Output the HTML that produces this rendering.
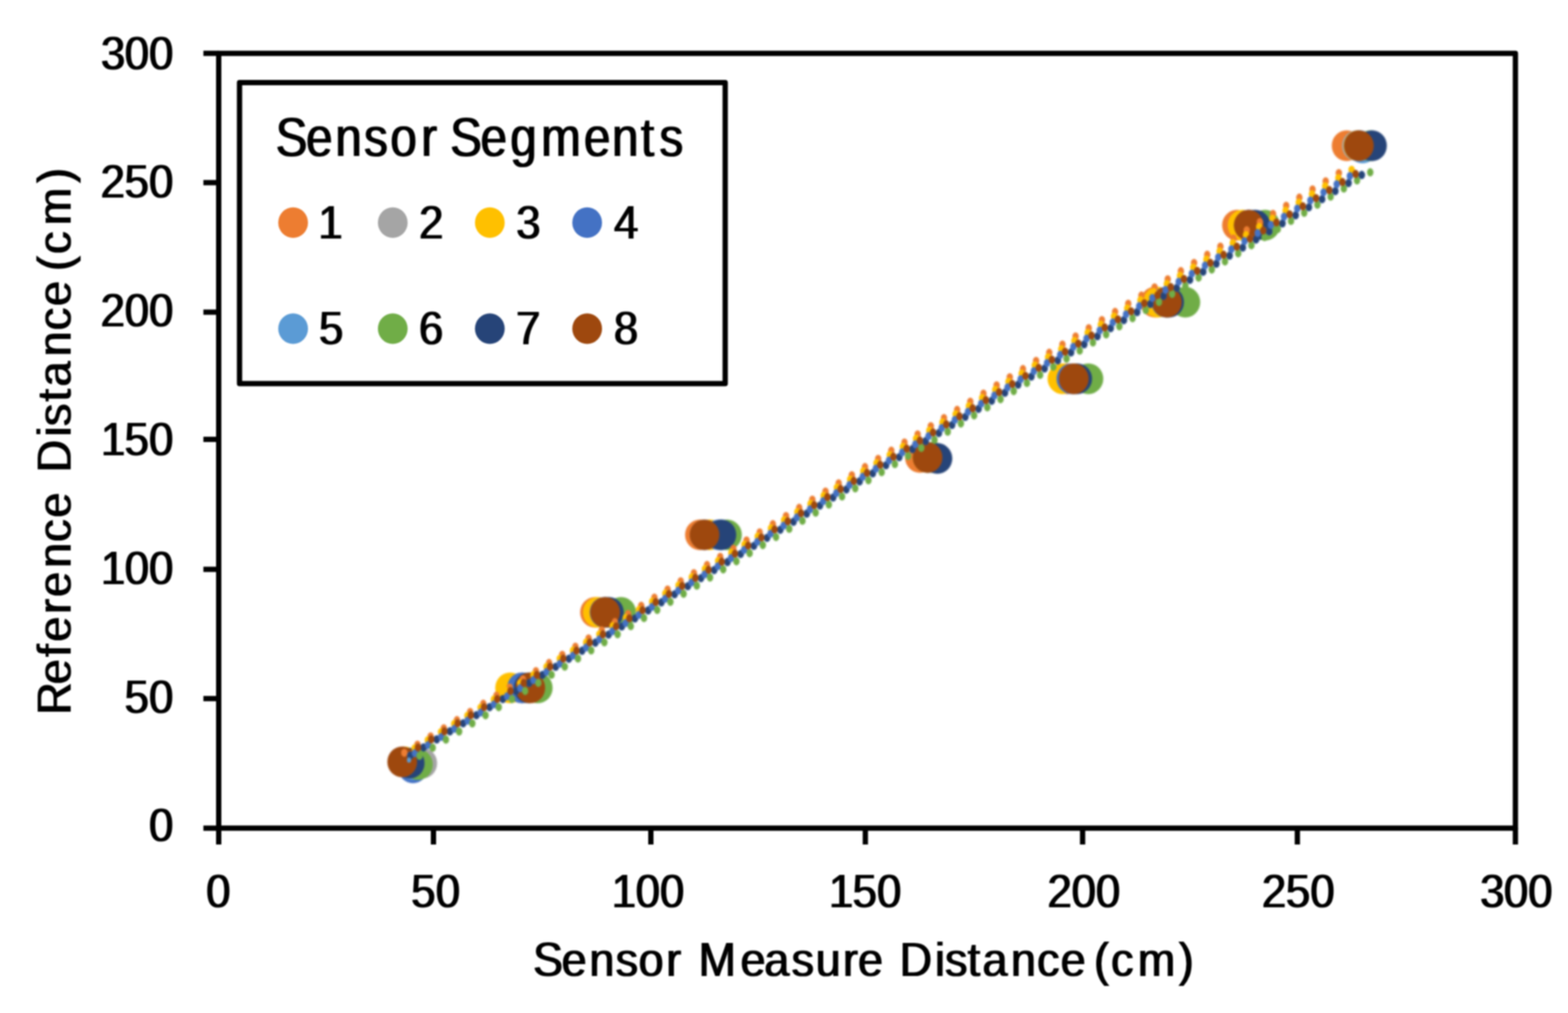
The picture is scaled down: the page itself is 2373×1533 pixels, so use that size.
<!DOCTYPE html>
<html lang="en"><head><meta charset="utf-8"><title>Sensor Segments chart</title>
<style>
html,body{margin:0;padding:0;background:#fff;}
body{width:2373px;height:1533px;overflow:hidden;}
svg{display:block;}
text{font-family:"Liberation Sans",sans-serif;fill:#000;}
</style></head><body>
<svg width="2373" height="1533" viewBox="0 0 2373 1533">
<rect width="2373" height="1533" fill="#fff"/>
<defs><filter id="soft" x="-2%" y="-2%" width="104%" height="104%" color-interpolation-filters="sRGB"><feGaussianBlur stdDeviation="1.2"/></filter><filter id="tx" x="-2%" y="-2%" width="104%" height="104%" color-interpolation-filters="sRGB"><feMorphology operator="dilate" radius="1 0.01"/><feGaussianBlur stdDeviation="1.1"/></filter><filter id="ty" x="-20%" y="-2%" width="140%" height="104%" color-interpolation-filters="sRGB"><feMorphology operator="dilate" radius="0.01 1"/><feGaussianBlur stdDeviation="1.1"/></filter><filter id="softer" x="-2%" y="-2%" width="104%" height="104%" color-interpolation-filters="sRGB"><feGaussianBlur stdDeviation="1.5"/></filter></defs>
<g filter="url(#softer)">
<g>
<g fill="#ED7D31">
<ellipse cx="610" cy="1153" rx="22.5" ry="23.2"/>
<ellipse cx="790" cy="1041" rx="22.5" ry="23.2"/>
<ellipse cx="900.5" cy="926.6" rx="22.5" ry="23.2"/>
<ellipse cx="1059.3" cy="809.4" rx="22.5" ry="23.2"/>
<ellipse cx="1392.2" cy="692.3" rx="22.5" ry="23.2"/>
<ellipse cx="1615" cy="573.2" rx="22.5" ry="23.2"/>
<ellipse cx="1748" cy="457.3" rx="22.5" ry="23.2"/>
<ellipse cx="1872" cy="340.8" rx="22.5" ry="23.2"/>
<ellipse cx="2038" cy="220.5" rx="22.5" ry="23.2"/>
</g>
<g fill="#A5A5A5">
<ellipse cx="639" cy="1155" rx="22.5" ry="23.2"/>
<ellipse cx="790" cy="1041" rx="22.5" ry="23.2"/>
<ellipse cx="915.8" cy="926.6" rx="22.5" ry="23.2"/>
<ellipse cx="1066.2" cy="809.4" rx="22.5" ry="23.2"/>
<ellipse cx="1403.7" cy="692.3" rx="22.5" ry="23.2"/>
<ellipse cx="1625" cy="573.2" rx="22.5" ry="23.2"/>
<ellipse cx="1765.9" cy="457.3" rx="22.5" ry="23.2"/>
<ellipse cx="1889.8" cy="340.8" rx="22.5" ry="23.2"/>
<ellipse cx="2053.5" cy="220.5" rx="22.5" ry="23.2"/>
</g>
<g fill="#FFC000">
<ellipse cx="612" cy="1153" rx="22.5" ry="23.2"/>
<ellipse cx="772" cy="1041" rx="22.5" ry="23.2"/>
<ellipse cx="904.7" cy="926.6" rx="22.5" ry="23.2"/>
<ellipse cx="1074" cy="809.4" rx="22.5" ry="23.2"/>
<ellipse cx="1403.7" cy="692.3" rx="22.5" ry="23.2"/>
<ellipse cx="1607.9" cy="573.2" rx="22.5" ry="23.2"/>
<ellipse cx="1752.2" cy="457.3" rx="22.5" ry="23.2"/>
<ellipse cx="1880.5" cy="340.8" rx="22.5" ry="23.2"/>
<ellipse cx="2056" cy="220.5" rx="22.5" ry="23.2"/>
</g>
<g fill="#4472C4">
<ellipse cx="625" cy="1162" rx="22.5" ry="23.2"/>
<ellipse cx="790" cy="1041" rx="22.5" ry="23.2"/>
<ellipse cx="915" cy="926.6" rx="22.5" ry="23.2"/>
<ellipse cx="1088" cy="809.4" rx="22.5" ry="23.2"/>
<ellipse cx="1405" cy="692.3" rx="22.5" ry="23.2"/>
<ellipse cx="1621.5" cy="573.2" rx="22.5" ry="23.2"/>
<ellipse cx="1765" cy="457.3" rx="22.5" ry="23.2"/>
<ellipse cx="1890" cy="340.8" rx="22.5" ry="23.2"/>
<ellipse cx="2058" cy="220.5" rx="22.5" ry="23.2"/>
</g>
<g fill="#5B9BD5">
<ellipse cx="624.5" cy="1157" rx="22.5" ry="23.2"/>
<ellipse cx="801" cy="1041" rx="22.5" ry="23.2"/>
<ellipse cx="918" cy="926.6" rx="22.5" ry="23.2"/>
<ellipse cx="1091.7" cy="809.4" rx="22.5" ry="23.2"/>
<ellipse cx="1410" cy="692.3" rx="22.5" ry="23.2"/>
<ellipse cx="1626" cy="573.2" rx="22.5" ry="23.2"/>
<ellipse cx="1766" cy="457.3" rx="22.5" ry="23.2"/>
<ellipse cx="1895" cy="340.8" rx="22.5" ry="23.2"/>
<ellipse cx="2062" cy="224" rx="22.5" ry="23.2"/>
</g>
<g fill="#70AD47">
<ellipse cx="632.5" cy="1157" rx="22.5" ry="23.2"/>
<ellipse cx="813.8" cy="1041" rx="22.5" ry="23.2"/>
<ellipse cx="940" cy="926.6" rx="22.5" ry="23.2"/>
<ellipse cx="1100.2" cy="809.4" rx="22.5" ry="23.2"/>
<ellipse cx="1412" cy="692.3" rx="22.5" ry="23.2"/>
<ellipse cx="1647.2" cy="573.2" rx="22.5" ry="23.2"/>
<ellipse cx="1793.9" cy="457.3" rx="22.5" ry="23.2"/>
<ellipse cx="1914.6" cy="340.8" rx="22.5" ry="23.2"/>
<ellipse cx="2074" cy="220.5" rx="22.5" ry="23.2"/>
</g>
<g fill="#264478">
<ellipse cx="620" cy="1155" rx="22.5" ry="23.2"/>
<ellipse cx="800" cy="1041" rx="22.5" ry="23.2"/>
<ellipse cx="921.5" cy="926.6" rx="22.5" ry="23.2"/>
<ellipse cx="1091.7" cy="809.4" rx="22.5" ry="23.2"/>
<ellipse cx="1418.7" cy="693.8" rx="22.5" ry="23.2"/>
<ellipse cx="1630.2" cy="573.2" rx="22.5" ry="23.2"/>
<ellipse cx="1769.3" cy="457.3" rx="22.5" ry="23.2"/>
<ellipse cx="1900" cy="340.8" rx="22.5" ry="23.2"/>
<ellipse cx="2076.3" cy="220.5" rx="22.5" ry="23.2"/>
</g>
<g fill="#9E480E">
<ellipse cx="608.7" cy="1153" rx="22.5" ry="23.2"/>
<ellipse cx="802.5" cy="1041" rx="22.5" ry="23.2"/>
<ellipse cx="915.8" cy="926.6" rx="22.5" ry="23.2"/>
<ellipse cx="1066.2" cy="809.4" rx="22.5" ry="23.2"/>
<ellipse cx="1403.7" cy="692.3" rx="22.5" ry="23.2"/>
<ellipse cx="1625" cy="573.2" rx="22.5" ry="23.2"/>
<ellipse cx="1765.9" cy="457.3" rx="22.5" ry="23.2"/>
<ellipse cx="1889.8" cy="340.8" rx="22.5" ry="23.2"/>
<ellipse cx="2056.5" cy="220.5" rx="22.5" ry="23.2"/>
</g>
</g>
<g fill="none" stroke-linecap="round" stroke-width="12.4" transform="scale(0.78,1)">
<line x1="784.49" y1="1139.2" x2="2598.05" y2="261.83" stroke="#ED7D31" stroke-dasharray="0 28.3697"/>
<line x1="811.03" y1="1131.2" x2="2630.62" y2="263.13" stroke="#A5A5A5" stroke-dasharray="0 28.3895"/>
<line x1="804.49" y1="1132.5" x2="2622.8" y2="256.83" stroke="#FFC000" stroke-dasharray="0 28.4194"/>
<line x1="796.15" y1="1143.4" x2="2642.54" y2="264.63" stroke="#5B9BD5" stroke-dasharray="0 28.3950"/>
<line x1="796.15" y1="1143.4" x2="2642.54" y2="264.63" stroke="#264478" stroke-dasharray="0 28.3950"/>
<line x1="805.13" y1="1139.7" x2="2619.46" y2="266.33" stroke="#4472C4" stroke-dasharray="0 28.3550"/>
<line x1="813.97" y1="1143.8" x2="2658.95" y2="260.63" stroke="#70AD47" stroke-dasharray="0 28.4037"/>
<line x1="811.03" y1="1131.2" x2="2630.62" y2="263.13" stroke="#9E480E" stroke-dasharray="0 28.3895"/>
<circle cx="793.59" cy="1150.2" r="4" fill="#5B9BD5" stroke="none"/>
</g>
</g>
<g filter="url(#soft)">
<g stroke="#000" stroke-width="8" fill="none" stroke-linejoin="round">
<rect x="331" y="80.7" width="1962.4" height="1172.6"/>
<line x1="307.8" y1="1253.3" x2="331" y2="1253.3"/>
<line x1="331" y1="1253.3" x2="331" y2="1278"/>
<line x1="307.8" y1="1057.2" x2="331" y2="1057.2"/>
<line x1="656" y1="1253.3" x2="656" y2="1278"/>
<line x1="307.8" y1="861.6" x2="331" y2="861.6"/>
<line x1="985" y1="1253.3" x2="985" y2="1278"/>
<line x1="307.8" y1="664.9" x2="331" y2="664.9"/>
<line x1="1309.6" y1="1253.3" x2="1309.6" y2="1278"/>
<line x1="307.8" y1="472.4" x2="331" y2="472.4"/>
<line x1="1638.4" y1="1253.3" x2="1638.4" y2="1278"/>
<line x1="307.8" y1="276.4" x2="331" y2="276.4"/>
<line x1="1963.4" y1="1253.3" x2="1963.4" y2="1278"/>
<line x1="307.8" y1="80.7" x2="331" y2="80.7"/>
<line x1="2293.4" y1="1253.3" x2="2293.4" y2="1278"/>
</g>
<rect x="362.5" y="125" width="735" height="455.6" fill="#fff" stroke="#000" stroke-width="8" stroke-linejoin="round"/>
<ellipse cx="443.6" cy="336.9" rx="22.5" ry="23.2" fill="#ED7D31"/>
<ellipse cx="594.4" cy="336.9" rx="22.5" ry="23.2" fill="#A5A5A5"/>
<ellipse cx="741.3" cy="336.9" rx="22.5" ry="23.2" fill="#FFC000"/>
<ellipse cx="888.6" cy="336.9" rx="22.5" ry="23.2" fill="#4472C4"/>
<ellipse cx="443.6" cy="497.4" rx="22.5" ry="23.2" fill="#5B9BD5"/>
<ellipse cx="594.4" cy="497.4" rx="22.5" ry="23.2" fill="#70AD47"/>
<ellipse cx="741.3" cy="497.4" rx="22.5" ry="23.2" fill="#264478"/>
<ellipse cx="888.6" cy="497.4" rx="22.5" ry="23.2" fill="#9E480E"/>
</g>
<g filter="url(#tx)">
<text transform="translate(0,235.5) scale(0.9,1.05)" x="463.56 514.72 563.81 612.33 656.42 708.47 735.11 756.9 808.17 858.1 909.99 981.83 1029.25 1077.8 1108.89" y="0" font-size="80">Sensor Segments</text>
<text transform="translate(0,361.2) scale(0.99,1.04)" x="486.61" y="0" font-size="67">1</text>
<text transform="translate(0,361.2) scale(0.99,1.04)" x="640.76" y="0" font-size="67">2</text>
<text transform="translate(0,361.2) scale(0.99,1.04)" x="789.14" y="0" font-size="67">3</text>
<text transform="translate(0,361.2) scale(0.99,1.04)" x="938.55" y="0" font-size="67">4</text>
<text transform="translate(0,520.5) scale(0.99,1.04)" x="487.6" y="0" font-size="67">5</text>
<text transform="translate(0,520.5) scale(0.99,1.04)" x="640.53" y="0" font-size="67">6</text>
<text transform="translate(0,520.5) scale(0.99,1.04)" x="788.91" y="0" font-size="67">7</text>
<text transform="translate(0,520.5) scale(0.99,1.04)" x="938.34" y="0" font-size="67">8</text>
<text transform="translate(0,1273.3) scale(0.99,1.04)" x="227.86" y="0" font-size="67">0</text>
<text transform="translate(0,1078.5) scale(0.99,1.04)" x="190.36 227.86" y="0" font-size="67">50</text>
<text transform="translate(0,883.7) scale(0.99,1.04)" x="154.33 190.79 227.86" y="0" font-size="67">100</text>
<text transform="translate(0,688.9) scale(0.99,1.04)" x="154.33 190.36 227.86" y="0" font-size="67">150</text>
<text transform="translate(0,494.1) scale(0.99,1.04)" x="153.82 190.79 227.86" y="0" font-size="67">200</text>
<text transform="translate(0,299.3) scale(0.99,1.04)" x="153.82 190.36 227.86" y="0" font-size="67">250</text>
<text transform="translate(0,104.5) scale(0.99,1.04)" x="154.23 190.79 227.86" y="0" font-size="67">300</text>
<text transform="translate(0,1373.2) scale(0.99,1.04)" x="315.21" y="0" font-size="67">0</text>
<text transform="translate(0,1373.2) scale(0.99,1.04)" x="628.56 666.06" y="0" font-size="67">50</text>
<text transform="translate(0,1373.2) scale(0.99,1.04)" x="935.22 971.68 1008.75" y="0" font-size="67">100</text>
<text transform="translate(0,1373.2) scale(0.99,1.04)" x="1267.24 1303.27 1340.77" y="0" font-size="67">150</text>
<text transform="translate(0,1373.2) scale(0.99,1.04)" x="1601.17 1638.15 1675.21" y="0" font-size="67">200</text>
<text transform="translate(0,1373.2) scale(0.99,1.04)" x="1929.05 1965.59 2003.09" y="0" font-size="67">250</text>
<text transform="translate(0,1373.2) scale(0.99,1.04)" x="2262.54 2299.1 2336.17" y="0" font-size="67">300</text>
<text transform="translate(0,1477) scale(0.93,1)" x="867.61 913.97 959.11 1001.84 1039.27 1084.09 1108.4 1136.8 1205.15 1243.85 1288.18 1327.5 1371.73 1396.22 1436.82 1464.11 1521.59 1537.97 1574.84 1598.9 1645.13 1687.61 1726.01 1766.61 1780.31 1808.15 1851.62 1918.39" y="0" font-size="73">Sensor Measure Distance (cm)</text>
</g>
<g filter="url(#ty)">
<text transform="translate(106.5,1100) rotate(-90) scale(0.93,0.98)" x="19.87 69.45 114.02 138.8 183.98 211.6 258.79 301.16 340.63 381.23 414.33 472.55 489.58 529.57 553.96 602.98 645.36 684.93 725.53 741.92 769.76 816.35 884.84" y="0" font-size="73">Reference Distance (cm)</text>
</g>
</svg></body></html>
